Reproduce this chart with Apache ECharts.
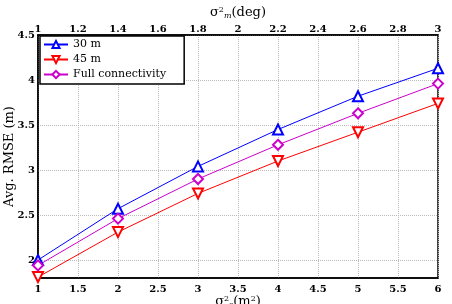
<!DOCTYPE html>
<html>
<head>
<meta charset="utf-8">
<script src="https://cdn.jsdelivr.net/npm/echarts@6/dist/echarts.min.js"></script>
<style>
html, body { margin: 0; padding: 0; background: #fff; }
#chart { width: 452px; height: 304px; }
</style>
</head>
<body>
<div id="chart"></div>
<script>
//data
let xValues = [1, 2, 3, 4, 5, 6];
let rmse30 = [2.0, 2.57, 3.04, 3.45, 3.82, 4.13];
let rmse45 = [1.81, 2.31, 2.74, 3.10, 3.42, 3.74];
let rmseFull = [1.94, 2.46, 2.90, 3.28, 3.63, 3.96];
let names = ['30 m', '45 m', 'Full connectivity'];

let font = 'DejaVu Serif';
let clear = 'rgba(0,0,0,0)';

function pairs(ys) {
    let out = [];
    for (let i = 0; i < xValues.length; i++) {
        out.push([xValues[i], ys[i]]);
    }
    return out;
}

//only label the 0.5 steps
function halfLabel(v) {
    let r = Math.round(v * 2);
    if (Math.abs(v * 2 - r) < 1e-6) {
        return String(r / 2);
    }
    return '';
}

let chart = echarts.init(document.getElementById('chart'));

let option = {
    animation: false,
    backgroundColor: '#fff',
    grid: {
        left: 38, right: 14, top: 35, bottom: 26,
        containLabel: false, outerBoundsMode: 'none',
        show: true, borderColor: '#000', borderWidth: 1.5, backgroundColor: clear
    },
    legend: {
        left: 40, top: 36, orient: 'vertical',
        data: names,
        itemWidth: 24, itemHeight: 9, itemGap: 4,
        padding: [3, 18, 4, 3],
        backgroundColor: '#fff', borderColor: '#000', borderWidth: 1.5,
        textStyle: { fontFamily: font, fontSize: 11, color: '#000' }
    },
    xAxis: [{
        type: 'value', position: 'bottom', min: 1, max: 6, interval: 0.5,
        axisLine: { lineStyle: { color: '#000', width: 1.5 } },
        axisTick: { show: false },
        axisLabel: { fontFamily: font, fontSize: 10, fontWeight: 'bold', color: '#000', margin: 6 },
        splitLine: { show: true, lineStyle: { color: '#bbb', type: 'dotted' } },
        name: '{s|σ}{sup|2}{sub|s}{s|(m}{sup|2}{s|)}',
        nameLocation: 'middle', nameGap: 17, nameMoveOverlap: false,
        nameTextStyle: {
            rich: {
                s: { fontFamily: font, fontSize: 13, color: '#000' },
                sup: { fontFamily: font, fontSize: 8, color: '#000', verticalAlign: 'top', padding: [0, 0, 6, 0] },
                sub: { fontFamily: font, fontSize: 8, color: '#000', verticalAlign: 'bottom', padding: [6, 0, 0, 0] }
            }
        }
    }, {
        type: 'value', position: 'top', min: 1, max: 3, interval: 0.2,
        axisLine: { lineStyle: { color: '#000', width: 1.5 } },
        axisTick: { show: false },
        axisLabel: { fontFamily: font, fontSize: 10, fontWeight: 'bold', color: '#000', margin: 1 },
        splitLine: { show: false },
        name: '{s|σ}{sup|2}{sub|m}{s|(deg)}',
        nameLocation: 'middle', nameGap: 15, nameMoveOverlap: false,
        nameTextStyle: {
            rich: {
                s: { fontFamily: font, fontSize: 13, color: '#000' },
                sup: { fontFamily: font, fontSize: 8, color: '#000', verticalAlign: 'top', padding: [0, 0, 6, 0] },
                sub: { fontFamily: font, fontSize: 8, fontStyle: 'italic', color: '#000', verticalAlign: 'bottom', padding: [6, 0, 0, 0] }
            }
        }
    }],
    yAxis: {
        type: 'value', min: 1.8, max: 4.5, interval: 0.1,
        axisLine: { lineStyle: { color: '#000', width: 1.5 } },
        axisTick: { show: false },
        axisLabel: { fontFamily: font, fontSize: 10, fontWeight: 'bold', color: '#000', margin: 3, formatter: halfLabel },
        splitLine: { show: true, lineStyle: { color: [clear, clear, '#bbb', clear, clear], type: 'dotted' } },
        name: 'Avg. RMSE (m)',
        nameLocation: 'middle', nameGap: 22, nameMoveOverlap: false,
        nameTextStyle: { fontFamily: font, fontSize: 13, color: '#000' }
    },
    series: [{
        name: names[0], type: 'line', data: pairs(rmse30),
        symbol: 'emptyTriangle', symbolSize: 10,
        lineStyle: { color: '#0000ff', width: 1 },
        itemStyle: { color: '#0000ff', borderWidth: 1 }
    }, {
        name: names[1], type: 'line', data: pairs(rmse45),
        symbol: 'emptyTriangle', symbolRotate: 180, symbolSize: 10,
        lineStyle: { color: '#ff0000', width: 1 },
        itemStyle: { color: '#ff0000', borderWidth: 1 }
    }, {
        name: names[2], type: 'line', data: pairs(rmseFull),
        symbol: 'emptyDiamond', symbolSize: 10,
        lineStyle: { color: '#cc00cc', width: 1 },
        itemStyle: { color: '#cc00cc', borderWidth: 1 }
    }]
};

chart.setOption(option);
</script>
</body>
</html>
